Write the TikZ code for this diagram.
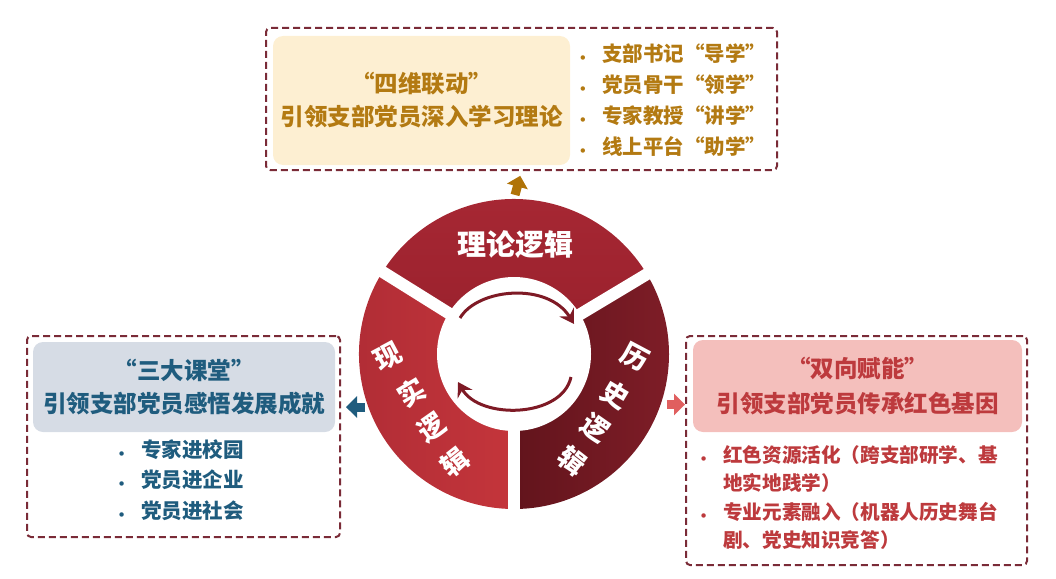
\documentclass[tikz,border=0pt]{standalone}
\usepackage{fontspec}
\newfontfamily\cjk[BoldFont={Noto Sans CJK SC Black}]{Noto Sans CJK SC}
\usetikzlibrary{arrows.meta, positioning}

\definecolor{goldtxt}{HTML}{B37A12}
\definecolor{goldarr}{HTML}{B07308}
\definecolor{bluetxt}{HTML}{1F5C7E}
\definecolor{redtxt}{HTML}{BD3A3D}
\definecolor{pinkarr}{HTML}{E05F5F}
\definecolor{dashred}{HTML}{7A2B37}
\definecolor{creamfill}{HTML}{FDEFD2}
\definecolor{greyfill}{HTML}{D6DCE5}
\definecolor{pinkfill}{HTML}{F4BFBC}
\definecolor{segtopa}{HTML}{A82834}
\definecolor{segtopb}{HTML}{98202C}
\definecolor{seghista}{HTML}{7E1D27}
\definecolor{seghistb}{HTML}{62141C}
\definecolor{segreala}{HTML}{AF2C35}
\definecolor{segrealb}{HTML}{C4353B}
\definecolor{looparr}{HTML}{7E1A25}

\newcommand{\bul}{\makebox[26pt][l]{{\rmfamily\fontsize{15}{15}\selectfont\textbullet}}}

\begin{document}
\begin{tikzpicture}[
    x=1pt, y=-1pt,
    dashbox/.style={
        draw=dashred,
        line width=2pt,
        dash pattern=on 7pt off 4pt,
        rounded corners=4pt,
        inner sep=0pt
    },
    fillbox/.style={
        rounded corners=10pt,
        align=center,
        inner sep=0pt,
        font=\cjk\bfseries\fontsize{23.5}{33}\selectfont
    },
    list/.style={anchor=west, align=left, inner sep=0pt},
    ringtxt/.style={text=white, inner sep=0pt, font=\cjk\bfseries\fontsize{27}{27}\selectfont},
    arrow/.style={line width=9pt, -{Triangle[length=11pt,width=21pt]}},
    loop/.style={draw=looparr, line width=3pt, -{Stealth[length=14pt,width=17pt,inset=5pt]}}
]
\useasboundingbox (0,0) rectangle (1056,578);

% --- Top group
\node[dashbox, minimum width=511pt, minimum height=142pt] (topbox) at (521.5,99) {};
\node[fillbox, fill=creamfill, text=goldtxt, minimum width=297pt, minimum height=129pt] (toptitle) at (421.5,100.5) {“四维联动”\\引领支部党员深入学习理论};
\node[list, text=goldtxt, font=\cjk\bfseries\fontsize{20.5}{31}\selectfont, right=6pt of toptitle] (toplist) {\bul 支部书记“导学”\\\bul 党员骨干“领学”\\\bul 专家教授“讲学”\\\bul 线上平台“助学”};

% --- Left group
\node[dashbox, minimum width=313pt, minimum height=201pt] (leftbox) at (183.5,436.5) {};
\node[fillbox, fill=greyfill, text=bluetxt, minimum width=302pt, minimum height=90pt] (lefttitle) at (184,387) {“三大课堂”\\引领支部党员感悟发展成就};
\node[list, text=bluetxt, font=\cjk\bfseries\fontsize{20.5}{30.5}\selectfont] (leftlist) at (115,480) {\bul 专家进校园\\\bul 党员进企业\\\bul 党员进社会};

% --- Right group
\node[dashbox, minimum width=341pt, minimum height=229pt] (rightbox) at (856.5,450.5) {};
\node[fillbox, fill=pinkfill, text=redtxt, minimum width=329pt, minimum height=92pt, font=\cjk\bfseries\fontsize{23.5}{35}\selectfont] (righttitle) at (857.5,386) {“双向赋能”\\引领支部党员传承红色基因};
\node[list, text=redtxt, font=\cjk\bfseries\fontsize{19.6}{28.3}\selectfont] (rightlist) at (697,497.5) {\bul 红色资源活化（跨支部研学、基\\\hspace*{26pt}地实地践学）\\\bul 专业元素融入（机器人历史舞台\\\hspace*{26pt}剧、党史知识竞答）};

% --- Ring
\coordinate (c) at (514,354);
\begin{scope}[shift={(c)}, yscale=-1]
  \shade[top color=segtopa, bottom color=segtopb] (0,0) -- (31:155) arc[start angle=31, end angle=148, radius=155] -- cycle;
  \shade[right color=seghista, left color=seghistb] (0,0) -- (-90:155) arc[start angle=-90, end angle=31, radius=155] -- cycle;
  \shade[left color=segreala, right color=segrealb] (0,0) -- (148:155) arc[start angle=148, end angle=270, radius=155] -- cycle;
  \foreach \a in {31,148,270}
    \draw[white, line width=12pt] (0,0) -- (\a:162);
  \fill[white] (0,0) circle (77);
\end{scope}
\node[circle, minimum size=310pt, inner sep=0pt] (ring) at (c) {};

\node[ringtxt, font=\cjk\bfseries\fontsize{29}{29}\selectfont] (theory) at (515,245) {理论逻辑};
\foreach \ch/\px/\py/\rot [count=\i] in {历/635/357/-28, 史/615/395/-31, 逻/595/428/-35, 辑/572/461/-38}
  \node[ringtxt, rotate=\rot] (hist\i) at (\px,\py) {\ch};
\foreach \ch/\px/\py/\rot [count=\i] in {现/388/357/28, 实/412/393/31, 逻/432/428/35, 辑/455/462/38}
  \node[ringtxt, rotate=\rot] (real\i) at (\px,\py) {\ch};

% --- Loop arrows
\coordinate (loopa) at (460,318);
\coordinate (loopb) at (574,324);
\coordinate (loopc) at (571,377);
\coordinate (loopd) at (458,382);
\draw[loop] (loopa) .. controls (478,288) and (548,282) .. (loopb);
\draw[loop] (loopc) .. controls (562,418) and (480,420) .. (loopd);

% --- Arrows out
\draw[arrow, draw=goldarr, shorten <=4pt, shorten >=5pt] (ring.north) -- (topbox.south);
\draw[arrow, draw=bluetxt, shorten <=3pt, shorten >=5pt] (ring.200) -- (ring.200 -| leftbox.east);
\draw[arrow, draw=pinkarr, shorten <=6pt] (ring.-19) -- (ring.-19 -| rightbox.west);

\end{tikzpicture}
\end{document}
